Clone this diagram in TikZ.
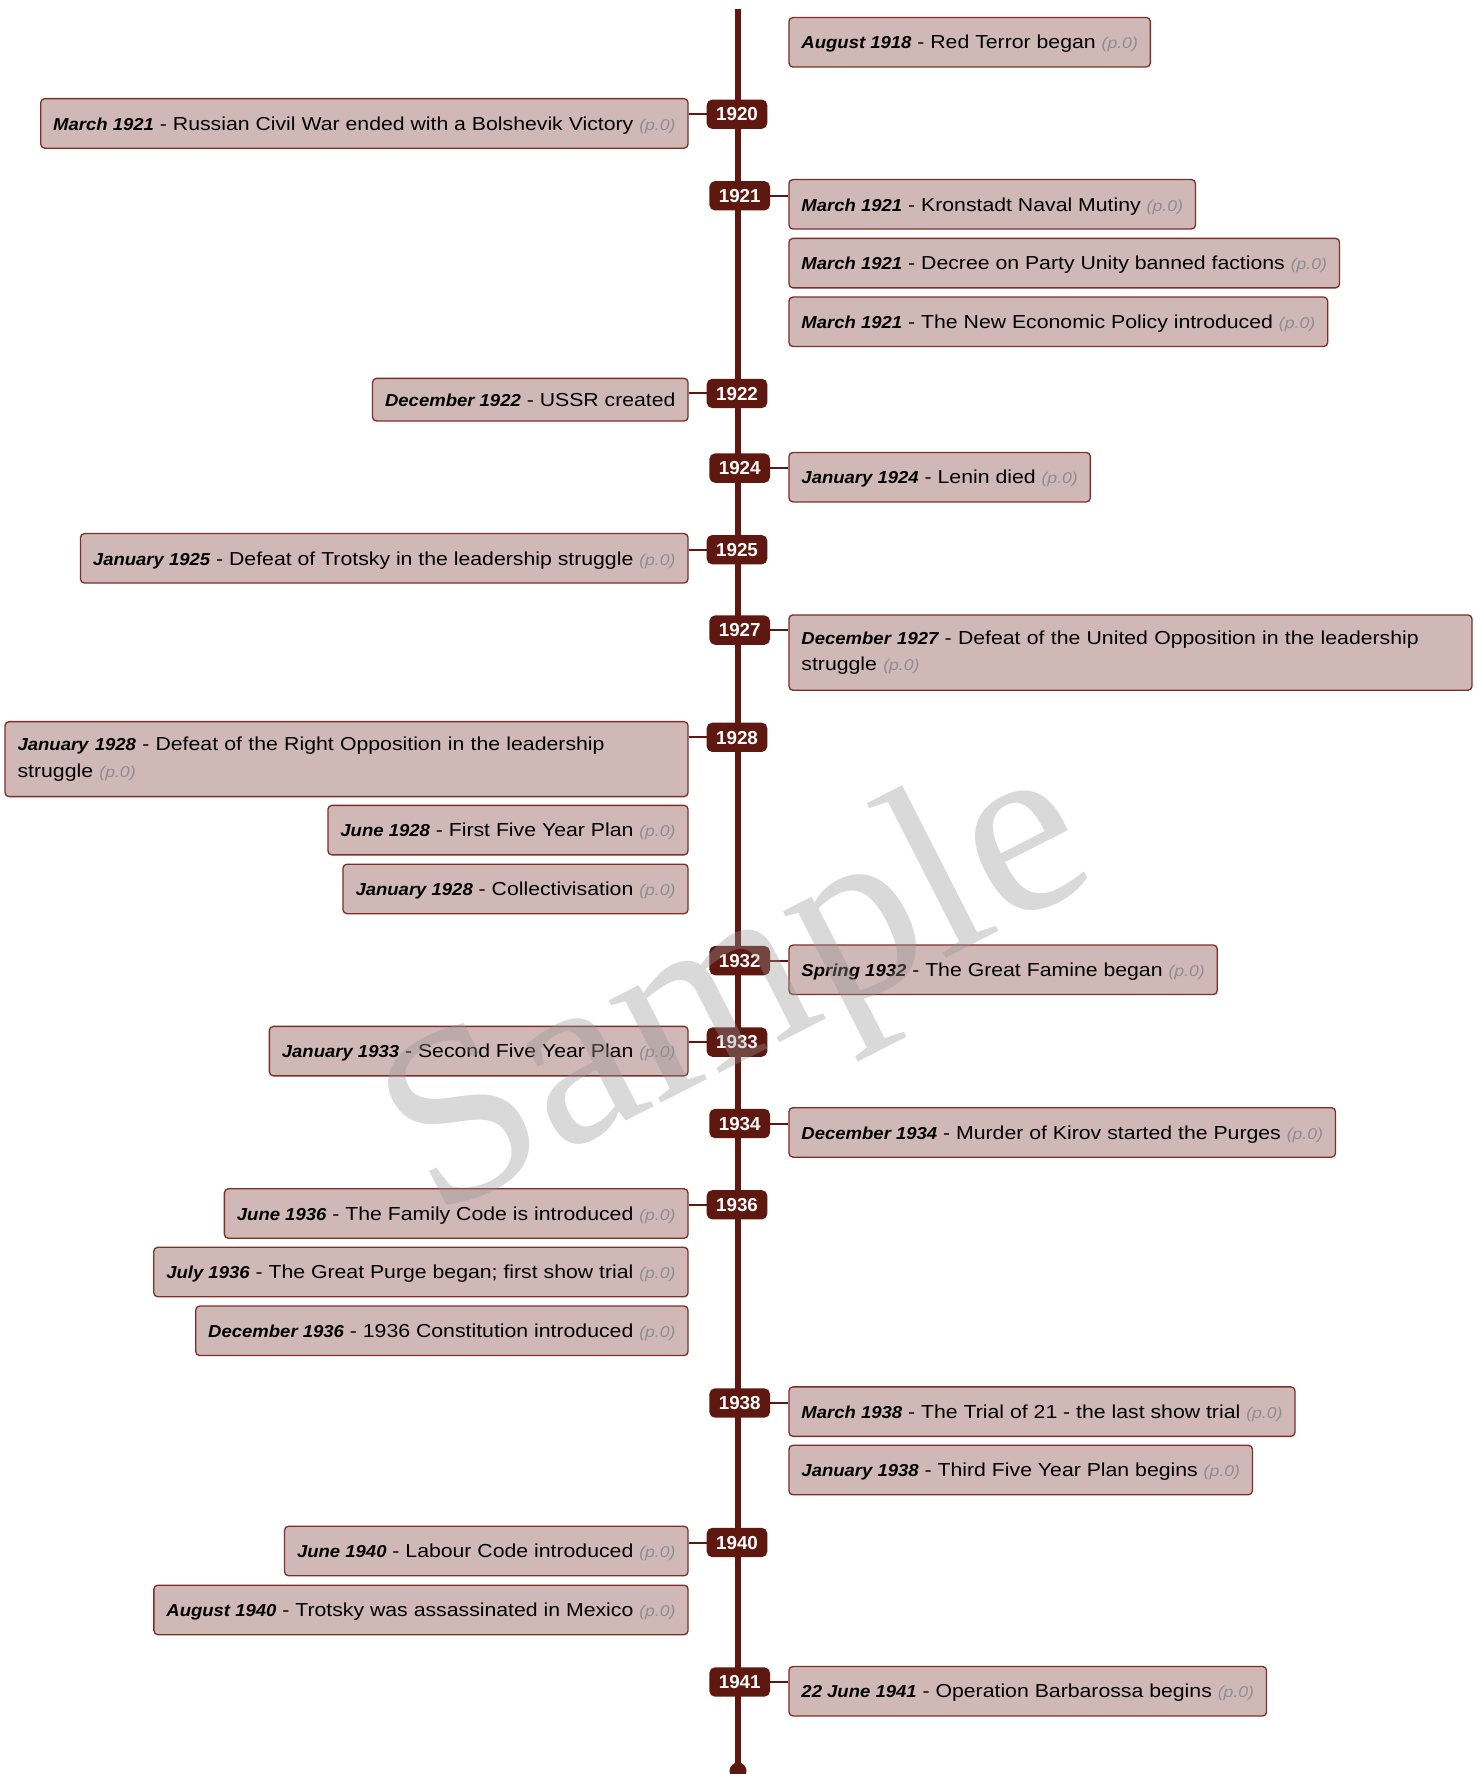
\documentclass[tikz,border=0pt]{standalone}
\usepackage{fontspec}
\setmainfont{Liberation Sans}[FakeStretch=1.13]
\newfontfamily\datefont{Liberation Sans}[FakeStretch=1.07]
\newfontfamily\yrfont{Liberation Sans}
\newfontfamily\wmfont{Liberation Serif}
\definecolor{boxfill}{HTML}{CFB8B6}
\definecolor{boxborder}{HTML}{7E2E27}
\definecolor{badge}{HTML}{5E1810}
\definecolor{pgray}{HTML}{8E8E8E}
\definecolor{wmgray}{HTML}{969696}
\newcommand\pz{{\fontsize{15.6}{20}\selectfont\itshape\color{pgray}(p.0)}}
\newcommand\dt[1]{{\datefont\fontsize{17.3}{20}\selectfont\bfseries\itshape #1}}
\tikzset{
  evtbase/.style={draw=boxborder, fill=boxfill, rounded corners=4pt, line width=1.3pt,
    inner xsep=12.5pt, inner ysep=0pt, font=\fontsize{18.8}{26.7}\selectfont, text=black},
  single/.style={minimum height=49.5pt, text height=13.5pt, text depth=0pt},
  twoline/.style={text width=658pt, align=left, minimum height=75.4pt},
  rbox/.style={evtbase, single, anchor=west},
  lbox/.style={evtbase, single, anchor=east},
  rbox2/.style={evtbase, twoline, anchor=west},
  lbox2/.style={evtbase, twoline, anchor=east},
  yr/.style={fill=badge, rounded corners=5.5pt, text=white, font=\yrfont\fontsize{18.8}{19}\selectfont\bfseries,
    minimum width=60.6pt, minimum height=29.3pt, inner sep=0pt, text height=13.4pt, text depth=0pt},
  conn/.style={draw=badge, line width=2pt},
  spine/.style={draw=badge, line width=6pt},
  wm/.style={font=\wmfont\fontsize{250}{250}\selectfont, text=wmgray, text opacity=0.36, rotate=27, inner sep=0pt}
}
\begin{document}
\begin{tikzpicture}[x=1pt,y=-1pt]
\useasboundingbox (0,0) rectangle (1477,1774);
% spine
\coordinate (top) at (738,9);
\coordinate (bot) at (738,1771);
\draw[spine] (top) -- (bot);
\fill[badge] (bot) circle (8.5);

% right-side events
\node[rbox] (aug18) at (788.3,42.25) {\dt{August 1918} - Red Terror began \pz};
\node[rbox] (kron) at (788.3,204.3) {\dt{March 1921} - Kronstadt Naval Mutiny \pz};
\node[rbox] (decree) at (788.3,263.1) {\dt{March 1921} - Decree on Party Unity banned factions \pz};
\node[rbox] (nep) at (788.3,321.8) {\dt{March 1921} - The New Economic Policy introduced \pz};
\node[rbox] (lenin) at (788.3,477.2) {\dt{January 1924} - Lenin died \pz};
\node[rbox2] (dec27) at (788.3,652.6) {\dt{December 1927} - Defeat of the United Opposition in the leadership\\struggle \pz};
\node[rbox] (spr32) at (788.3,969.8) {\dt{Spring 1932} - The Great Famine began \pz};
\node[rbox] (dec34) at (788.3,1132.4) {\dt{December 1934} - Murder of Kirov started the Purges \pz};
\node[rbox] (mar38) at (788.3,1411.6) {\dt{March 1938} - The Trial of 21 - the last show trial \pz};
\node[rbox] (jan38) at (788.3,1470) {\dt{January 1938} - Third Five Year Plan begins \pz};
\node[rbox] (jun41) at (788.3,1691.2) {\dt{22 June 1941} - Operation Barbarossa begins \pz};

% left-side events
\node[lbox] (civil) at (688.7,123.4) {\dt{March 1921} - Russian Civil War ended with a Bolshevik Victory \pz};
\node[lbox, minimum height=42.7pt] (ussr) at (688.7,399.7) {\dt{December 1922} - USSR created};
\node[lbox] (trot) at (688.7,558.3) {\dt{January 1925} - Defeat of Trotsky in the leadership struggle \pz};
\node[lbox2, minimum height=75pt] (ropp) at (688.7,759.1) {\dt{January 1928} - Defeat of the Right Opposition in the leadership\\struggle \pz};
\node[lbox] (jun28) at (688.7,830.1) {\dt{June 1928} - First Five Year Plan \pz};
\node[lbox] (coll) at (688.7,888.9) {\dt{January 1928} - Collectivisation \pz};
\node[lbox] (jan33) at (688.7,1051.1) {\dt{January 1933} - Second Five Year Plan \pz};
\node[lbox] (jun36) at (688.7,1213.5) {\dt{June 1936} - The Family Code is introduced \pz};
\node[lbox] (jul36) at (688.7,1272) {\dt{July 1936} - The Great Purge began; first show trial \pz};
\node[lbox] (dec36) at (688.7,1330.8) {\dt{December 1936} - 1936 Constitution introduced \pz};
\node[lbox] (jun40) at (688.7,1551) {\dt{June 1940} - Labour Code introduced \pz};
\node[lbox] (aug40) at (688.7,1609.9) {\dt{August 1940} - Trotsky was assassinated in Mexico \pz};

% year badges
\node[yr] (y1920) at (737,114.2) {1920};
\node[yr] (y1921) at (739.7,195.8) {1921};
\node[yr] (y1922) at (737,393.4) {1922};
\node[yr] (y1924) at (739.7,468.1) {1924};
\node[yr] (y1925) at (737,549.7) {1925};
\node[yr] (y1927) at (739.7,630.1) {1927};
\node[yr] (y1928) at (737,737.3) {1928};
\node[yr] (y1932) at (739.7,960.6) {1932};
\node[yr] (y1933) at (737,1042.1) {1933};
\node[yr] (y1934) at (739.7,1123.5) {1934};
\node[yr] (y1936) at (737,1204.8) {1936};
\node[yr] (y1938) at (739.7,1403) {1938};
\node[yr] (y1940) at (737,1542.5) {1940};
\node[yr] (y1941) at (739.7,1682) {1941};

% connectors
\draw[conn] (y1920.west) -- (civil.east |- y1920.west);
\draw[conn] (y1921.east) -- (kron.west |- y1921.east);
\draw[conn] (y1922.west) -- (ussr.east |- y1922.west);
\draw[conn] (y1924.east) -- (lenin.west |- y1924.east);
\draw[conn] (y1925.west) -- (trot.east |- y1925.west);
\draw[conn] (y1927.east) -- (dec27.west |- y1927.east);
\draw[conn] (y1928.west) -- (ropp.east |- y1928.west);
\draw[conn] (y1932.east) -- (spr32.west |- y1932.east);
\draw[conn] (y1933.west) -- (jan33.east |- y1933.west);
\draw[conn] (y1934.east) -- (dec34.west |- y1934.east);
\draw[conn] (y1936.west) -- (jun36.east |- y1936.west);
\draw[conn] (y1938.east) -- (mar38.west |- y1938.east);
\draw[conn] (y1940.west) -- (jun40.east |- y1940.west);
\draw[conn] (y1941.east) -- (jun41.west |- y1941.east);

% watermark
\node[wm] (wmark) at (741,995) {Sample};
\end{tikzpicture}
\end{document}
